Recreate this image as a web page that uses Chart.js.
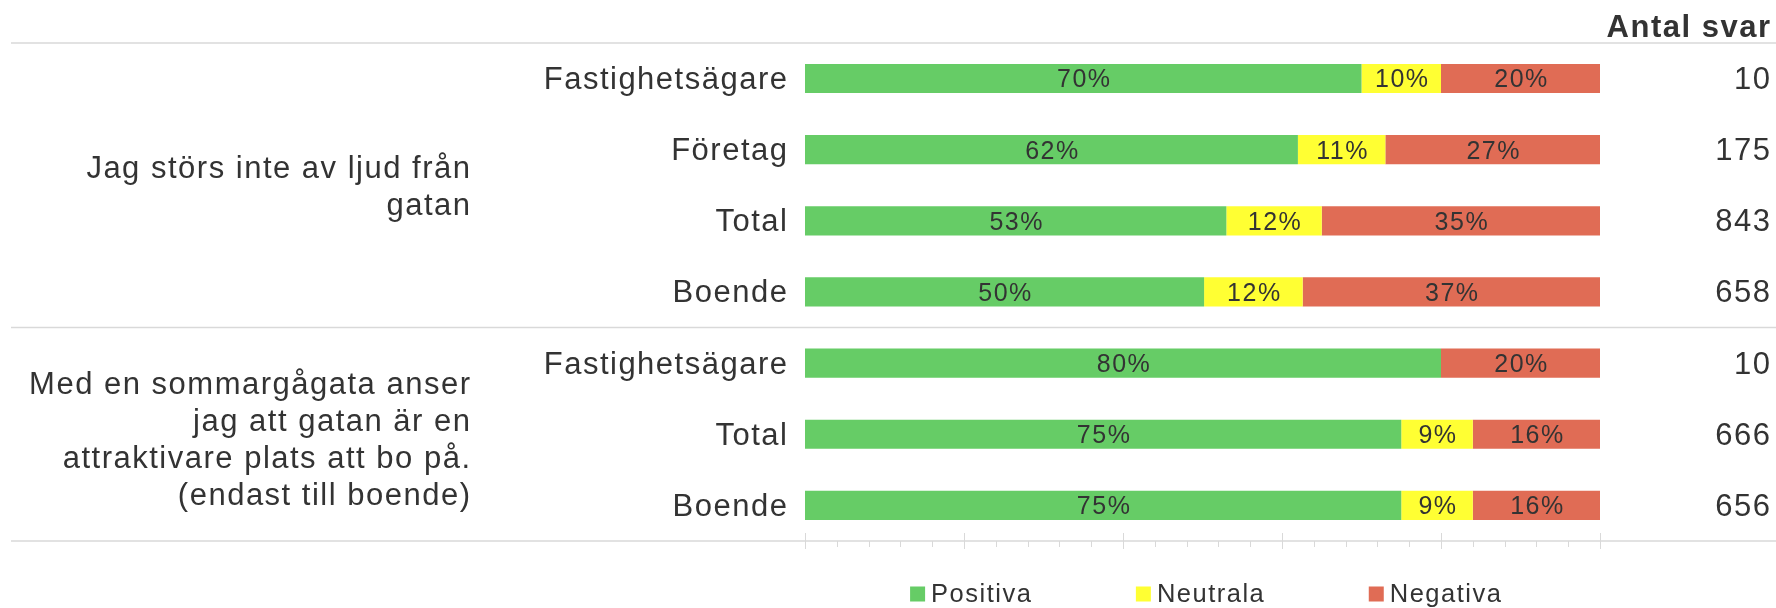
<!DOCTYPE html>
<html>
<head>
<meta charset="utf-8">
<script src="https://cdn.jsdelivr.net/npm/chart.js@4.4.1/dist/chart.umd.min.js"></script>
<style>
  html, body { margin: 0; padding: 0; background: #fff; }
  canvas { display: block; }
</style>
</head>
<body>
<canvas id="chart" width="1776" height="608"></canvas>
<script>
// Data
const categories = ['Fastighetsägare', 'Företag', 'Total', 'Boende', 'Fastighetsägare', 'Total', 'Boende'];
const positiva = [70, 62, 53, 50.2, 80, 75, 75];
const neutrala = [10, 11, 12, 12.4, 0, 9, 9];
const negativa = [20, 27, 35, 37.4, 20, 16, 16];
const antalSvar = ['10', '175', '843', '658', '10', '666', '656'];
const seriesNames = ['Positiva', 'Neutrala', 'Negativa'];
const seriesColors = ['#66cc66', '#ffff33', '#e06c55'];
const questionTexts = [
    ['Jag störs inte av ljud från', 'gatan'],
    ['Med en sommargågata anser', 'jag att gatan är en', 'attraktivare plats att bo på.', '(endast till boende)']
];
const questionRows = [[0, 3], [4, 6]];

const FONT = '"Liberation Sans", Arial, sans-serif';
const TEXT = '#333333';
const LINE = '#d9d9d9';
const SPACING = '1.5px';

Chart.defaults.font.family = FONT;

// Extra drawing: percent labels, separators, ticks, question texts, legend
const decor = {
    id: 'decor',
    beforeUpdate(chart) { chart.ctx.letterSpacing = SPACING; },
    beforeDraw(chart) { chart.ctx.letterSpacing = SPACING; },
    afterDatasetsDraw(chart) {
        const ctx = chart.ctx;
        ctx.save();
        ctx.letterSpacing = SPACING;
        ctx.font = '25px ' + FONT;
        ctx.fillStyle = TEXT;
        ctx.textAlign = 'center';
        ctx.textBaseline = 'middle';
        chart.data.datasets.forEach((ds, i) => {
            chart.getDatasetMeta(i).data.forEach((bar, j) => {
                const v = ds.data[j];
                if (!v) return;
                const p = bar.getCenterPoint();
                ctx.fillText(Math.round(v) + '%', p.x + 1, p.y + 2);
            });
        });
        ctx.restore();
    },
    afterDraw(chart) {
        const ctx = chart.ctx;
        const area = chart.chartArea;
        const x = chart.scales.x;
        const y = chart.scales.y;
        ctx.save();
        ctx.letterSpacing = SPACING;

        // horizontal separators
        ctx.strokeStyle = LINE;
        ctx.lineWidth = 1.5;
        const midY = (y.getPixelForValue(3) + y.getPixelForValue(4)) / 2;
        [area.top, midY, area.bottom].forEach(yy => {
            ctx.beginPath();
            ctx.moveTo(11, yy);
            ctx.lineTo(chart.width, yy);
            ctx.stroke();
        });

        // tick marks on value axis
        ctx.lineWidth = 1;
        for (let v = 0; v <= 100; v += 4) {
            const px = Math.round(x.getPixelForValue(v)) + 0.5;
            const major = v % 20 === 0;
            ctx.beginPath();
            ctx.moveTo(px, area.bottom - (major ? 8 : 0));
            ctx.lineTo(px, area.bottom + (major ? 8 : 6));
            ctx.stroke();
        }

        // question texts
        ctx.font = '31px ' + FONT;
        ctx.fillStyle = TEXT;
        ctx.textAlign = 'right';
        ctx.textBaseline = 'middle';
        const lh = 37;
        questionTexts.forEach((lines, g) => {
            const [a, b] = questionRows[g];
            const c = (y.getPixelForValue(a) + y.getPixelForValue(b)) / 2 + (g === 0 ? 3 : 7);
            lines.forEach((t, k) => {
                ctx.fillText(t, 471.5, c + (k - (lines.length - 1) / 2) * lh);
            });
        });

        // legend
        ctx.font = '25.5px ' + FONT;
        ctx.textAlign = 'left';
        const items = chart.data.datasets.map(ds => ({
            label: ds.label,
            color: ds.backgroundColor,
            w: 15 + 6 + ctx.measureText(ds.label).width - 1.5
        }));
        const gap = 105;
        const total = items.reduce((s, it) => s + it.w, 0) + gap * (items.length - 1);
        let lx = (area.left + area.right) / 2 + 3 - total / 2;
        const ly = 594;
        items.forEach(it => {
            ctx.fillStyle = it.color;
            ctx.fillRect(lx, ly - 7.5, 15, 15);
            ctx.fillStyle = TEXT;
            ctx.fillText(it.label, lx + 21, ly + 1);
            lx += it.w + gap;
        });
        ctx.restore();
    }
};

new Chart(document.getElementById('chart'), {
    type: 'bar',
    data: {
        labels: categories,
        datasets: [
            { label: seriesNames[0], data: positiva, backgroundColor: seriesColors[0] },
            { label: seriesNames[1], data: neutrala, backgroundColor: seriesColors[1] },
            { label: seriesNames[2], data: negativa, backgroundColor: seriesColors[2] }
        ]
    },
    options: {
        indexAxis: 'y',
        responsive: false,
        animation: false,
        categoryPercentage: 1,
        barPercentage: 0.41,
        layout: { padding: { left: 0, right: 4.5, top: 0, bottom: 67 } },
        scales: {
            x: { stacked: true, min: 0, max: 100, display: false },
            y: {
                stacked: true,
                grid: { display: false, drawTicks: false },
                border: { display: false },
                ticks: { autoSkip: false, padding: 16.5, labelOffset: 2, color: TEXT, font: { size: 31 } },
                afterFit: s => { s.width = 805; }
            },
            y2: {
                type: 'category',
                position: 'right',
                labels: antalSvar,
                offset: true,
                grid: { display: false, drawTicks: false },
                border: { display: false },
                ticks: { autoSkip: false, crossAlign: 'far', padding: 0, labelOffset: 2, color: TEXT, font: { size: 31 } },
                afterFit: s => { s.width = 171.5; }
            }
        },
        plugins: {
            legend: { display: false },
            tooltip: { enabled: false },
            title: {
                display: true,
                text: 'Antal svar',
                align: 'end',
                color: TEXT,
                font: { size: 31, weight: 'bold', lineHeight: 0.9 },
                padding: { top: 15, bottom: 0 }
            }
        }
    },
    plugins: [decor]
});
</script>
</body>
</html>
